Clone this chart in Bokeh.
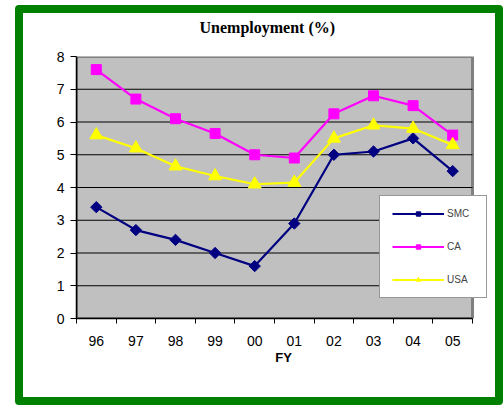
from bokeh.plotting import figure
from bokeh.models import FixedTicker, Legend, LinearAxis, Title
from bokeh.embed import file_html
from bokeh.resources import INLINE

FY = ["96", "97", "98", "99", "00", "01", "02", "03", "04", "05"]
SMC = [3.4, 2.7, 2.4, 2.0, 1.6, 2.9, 5.0, 5.1, 5.5, 4.5]
CA = [7.6, 6.7, 6.1, 5.65, 5.0, 4.9, 6.25, 6.8, 6.5, 5.6]
USA = [5.6, 5.2, 4.65, 4.35, 4.1, 4.15, 5.5, 5.9, 5.8, 5.3]
Y_TICKS = [0, 1, 2, 3, 4, 5, 6, 7, 8]
Y_MAX = 8
TITLE = "Unemployment (%)"

N = len(FY)
xs = [i + 0.5 for i in range(N)]

# layout (pixels): grey plot area 396px wide, frame extended 18px to the
# right so the legend can overhang the grey area
AREA_W, FRAME_W = 396, 414
X_END = N * FRAME_W / AREA_W

p = figure(width=488, height=400, x_range=(0, X_END), y_range=(0, Y_MAX),
           output_backend="svg", toolbar_location=None,
           min_border_left=53, min_border_right=21, min_border_top=43, min_border_bottom=95)

p.styles = {"border": "8px solid #008000", "border-radius": "4px",
            "margin-left": "15px", "margin-top": "5px"}

p.background_fill_color = "white"
p.border_fill_color = "white"
p.outline_line_color = None

# x axis: labels at category centres, ticks at category boundaries
xa = p.below[0]
xa.bounds = (0, N)
xa.ticker = FixedTicker(ticks=xs, minor_ticks=list(range(N + 1)))
xa.major_label_overrides = {x: lab for x, lab in zip(xs, FY)}
xa.major_tick_out = 0
xa.major_tick_in = 0
xa.minor_tick_out = 5
xa.minor_tick_in = 0
xa.minor_tick_line_color = "black"
xa.major_label_standoff = 12
xa.major_label_text_font = "Liberation Sans"
xa.major_label_text_font_size = "14px"
xa.major_label_text_color = "black"
xa.axis_label = "FY"
xa.axis_label_text_font = "Liberation Sans"
xa.axis_label_text_font_style = "bold"
xa.axis_label_text_font_size = "13px"
xa.axis_label_text_color = "black"
xa.axis_label_standoff = 1
xa.axis_line_color = "black"
xa.axis_line_width = 1.5

ya = p.left[0]
ya.ticker = FixedTicker(ticks=Y_TICKS, minor_ticks=[])
ya.major_tick_out = 6
ya.major_tick_in = 0
ya.major_tick_line_color = "black"
ya.major_label_standoff = 6
ya.major_label_text_font = "Liberation Sans"
ya.major_label_text_font_size = "14px"
ya.major_label_text_color = "black"
ya.axis_line_color = "black"
ya.axis_line_width = 1.5

p.xgrid.visible = False
p.ygrid.visible = False

# invisible spacer between title and plot area, then the title above it
spacer = LinearAxis(ticker=FixedTicker(ticks=[xs[0]], minor_ticks=[]),
                    major_label_overrides={xs[0]: ""},
                    major_label_text_font_size="1px",
                    major_tick_out=21, major_tick_in=0,
                    minor_tick_out=0, minor_tick_in=0,
                    major_label_standoff=0, axis_line_color=None,
                    major_tick_line_color=None, minor_tick_line_color=None)
p.add_layout(spacer, "above")
p.add_layout(Title(text=TITLE, text_font="Liberation Serif", text_font_style="bold",
                   text_font_size="16px", text_color="black", align="left",
                   offset=123, standoff=0), "above")

# grey plot area with its border, then black gridlines
p.quad(left=[0], right=[N], bottom=[0], top=[Y_MAX], fill_color="#C0C0C0",
       line_color="#808080", line_width=3)
grid_y = Y_TICKS[1:-1]
p.segment(x0=[0] * len(grid_y), y0=grid_y, x1=[N] * len(grid_y), y1=grid_y,
          line_color="black", line_width=1)

series = [
    ("SMC", SMC, "#000080", "square", 8, 0.7853981634),
    ("CA", CA, "#FF00FF", "square", 10, 0.0),
    ("USA", USA, "#FFFF00", "triangle", 13, 0.0),
]
items = []
for name, ys, col, mk, sz, ang in series:
    r1 = p.line(xs, ys, line_color=col, line_width=2.2)
    r2 = p.scatter(xs, ys, marker=mk, size=sz, angle=ang, fill_color=col, line_color=col)
    items.append((name, [r1, r2]))

leg = Legend(items=items, location=(303, 20))
leg.padding = 12
leg.spacing = 22
leg.glyph_width = 52
leg.glyph_height = 11
leg.label_height = 11
leg.label_width = 27
leg.label_standoff = 3
leg.label_text_font = "Liberation Sans"
leg.label_text_font_size = "10px"
leg.border_line_color = "#303030"
leg.border_line_width = 1
leg.background_fill_color = "white"
leg.background_fill_alpha = 1
leg.margin = 0
p.add_layout(leg, "center")

open("out.html", "w").write(file_html(p, INLINE))
